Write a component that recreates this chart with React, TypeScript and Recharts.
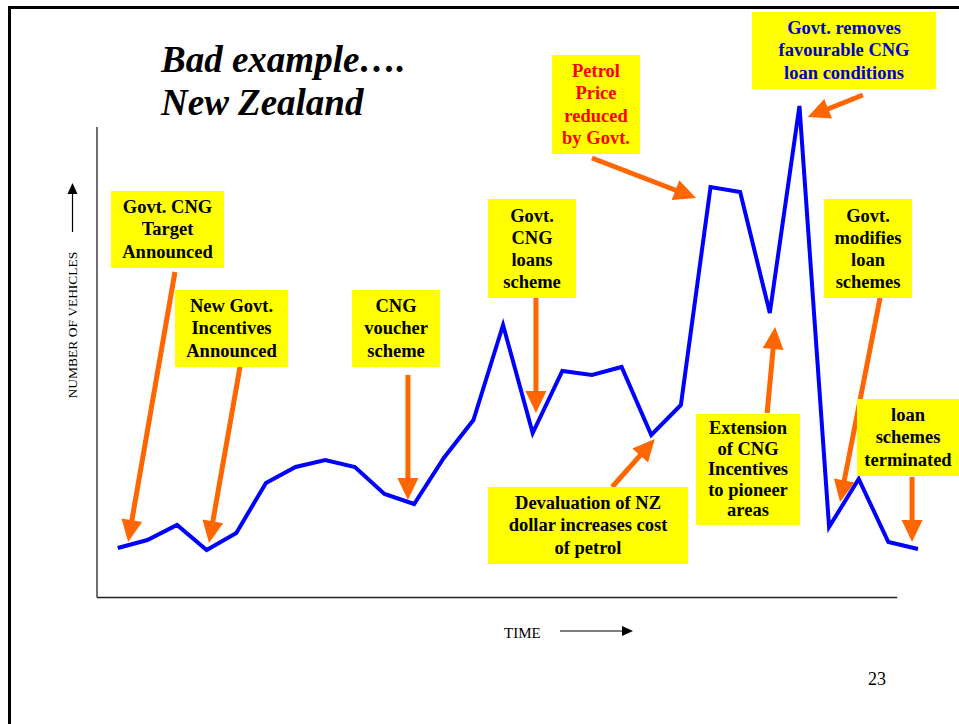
import { LineChart, Line, XAxis, YAxis, ReferenceLine } from "recharts";

// time periods (no labels on the original slide) and vehicle counts
const periods = [0, 1, 2, 3, 4, 5, 6, 7, 8, 9, 10, 11, 12, 13, 14, 15, 16, 17, 18, 19, 20, 21, 22, 23, 24, 25, 26, 27];
const vehicles = [
  510, 590, 740, 490, 660, 1160, 1320, 1390, 1320, 1050, 950, 1410, 1790, 2740,
  1660, 2280, 2240, 2320, 1640, 1940, 4120, 4070, 2860, 4930, 720, 1200, 570, 500,
];

const data = periods.map((t, i) => ({ t, vehicles: vehicles[i] }));

// orange call-out arrows, tail -> head, in chart units [period, vehicles]
const arrowTails = [
  [1.93, 3270], [4.13, 2330], [9.79, 2240], [14.11, 3010], [16.0, 4410],
  [25.14, 5040], [16.68, 1120], [21.91, 1860], [25.72, 3010], [26.8, 1220],
];
const arrowHeads = [
  [0.35, 570], [3.08, 560], [9.79, 990], [14.11, 1860], [19.51, 4010],
  [23.28, 4820], [18.12, 1600], [22.18, 2720], [24.37, 970], [26.8, 570],
];

const notes = [
  { lines: ["Govt. CNG", "Target", "Announced"], left: 111, top: 191, w: 113, h: 77 },
  { lines: ["New Govt.", "Incentives", "Announced"], left: 175, top: 290, w: 113, h: 77 },
  { lines: ["CNG", "voucher", "scheme"], left: 352, top: 290, w: 88, h: 77 },
  { lines: ["Govt.", "CNG", "loans", "scheme"], left: 488, top: 199, w: 88, h: 99, lh: 22 },
  { lines: ["Petrol", "Price", "reduced", "by Govt."], left: 552, top: 55, w: 88, h: 99, lh: 22.3, color: "#FF0000" },
  { lines: ["Govt. removes", "favourable CNG", "loan conditions"], left: 752, top: 12, w: 184, h: 77, color: "#0000CC" },
  { lines: ["Govt.", "modifies", "loan", "schemes"], left: 824, top: 199, w: 88, h: 99, lh: 22 },
  { lines: ["Devaluation of NZ", "dollar increases cost", "of petrol"], left: 488, top: 487, w: 200, h: 77 },
  { lines: ["Extension", "of CNG", "Incentives", "to pioneer", "areas"], left: 696, top: 414, w: 104, h: 111, lh: 20.5 },
  { lines: ["loan", "schemes", "terminated"], left: 857, top: 399, w: 102, h: 77 },
];

const serif = '"Liberation Serif", "Times New Roman", serif';

function Arrow(props: any) {
  const { x1, y1, x2, y2 } = props;
  const dx = x2 - x1;
  const dy = y2 - y1;
  const len = Math.hypot(dx, dy) || 1;
  const ux = dx / len;
  const uy = dy / len;
  const head = 22;
  const half = 10.5;
  const bx = x2 - ux * head;
  const by = y2 - uy * head;
  return (
    <g>
      <line x1={x1} y1={y1} x2={bx + ux} y2={by + uy} stroke="#FF6600" strokeWidth={5} />
      <polygon
        points={`${x2},${y2} ${bx - uy * half},${by + ux * half} ${bx + uy * half},${by - ux * half}`}
        fill="#FF6600"
      />
    </g>
  );
}

export default function App() {
  return (
    <div
      style={{
        position: "absolute",
        left: 0,
        top: 0,
        width: 959,
        height: 724,
        background: "#fff",
        fontFamily: serif,
        overflow: "hidden",
      }}
    >
      {/* slide frame */}
      <div
        style={{
          position: "absolute",
          left: 8,
          top: 6,
          width: 960,
          height: 730,
          borderTop: "3px solid #000",
          borderLeft: "3px solid #000",
        }}
      />

      <div style={{ position: "absolute", left: 0, top: 0 }}>
        <LineChart width={959} height={724} data={data} margin={{ top: 0, right: 41, bottom: 125, left: 97 }}>
          <XAxis dataKey="t" type="number" domain={[-0.7, 27]} hide />
          <YAxis type="number" domain={[0, 5990]} hide />
          <ReferenceLine
            segment={[{ x: -0.7, y: 15 }, { x: -0.7, y: 4720 }]}
            stroke="#222"
            strokeWidth={1.3}
            ifOverflow="visible"
          />
          <ReferenceLine
            segment={[{ x: -0.7, y: 15 }, { x: 26.3, y: 15 }]}
            stroke="#222"
            strokeWidth={1.3}
            ifOverflow="visible"
          />
          <Line
            type="linear"
            dataKey="vehicles"
            stroke="#0000FF"
            strokeWidth={4}
            dot={false}
            activeDot={false}
            isAnimationActive={false}
          />
          {arrowTails.map((tail, i) => (
            <ReferenceLine
              key={i}
              segment={[
                { x: tail[0], y: tail[1] },
                { x: arrowHeads[i][0], y: arrowHeads[i][1] },
              ]}
              ifOverflow="visible"
              shape={Arrow}
            />
          ))}
        </LineChart>
      </div>

      {/* title */}
      <div
        style={{
          position: "absolute",
          left: 161,
          top: 38,
          fontSize: 37,
          lineHeight: "43px",
          fontWeight: "bold",
          fontStyle: "italic",
          whiteSpace: "nowrap",
          color: "#000",
        }}
      >
        <div>Bad example….</div>
        <div>New Zealand</div>
      </div>

      {/* axis captions, page number */}
      <svg width={959} height={724} style={{ position: "absolute", left: 0, top: 0 }}>
        <text
          x={77}
          y={325}
          transform="rotate(-90 77 325)"
          textAnchor="middle"
          fontSize={13.5}
          fontFamily={serif}
          fill="#000"
        >
          NUMBER OF VEHICLES
        </text>
        <line x1={72.5} y1={232} x2={72.5} y2={193} stroke="#000" strokeWidth={1.2} />
        <polygon points="72.5,183 67.5,194 77.5,194" fill="#000" />

        <text x={504} y={638} fontSize={15} fontFamily={serif} fill="#000">
          TIME
        </text>
        <line x1={560} y1={631} x2={622} y2={631} stroke="#000" strokeWidth={1.2} />
        <polygon points="633,631 622,626 622,636" fill="#000" />

        <text x={868} y={685} fontSize={18} fontFamily={serif} fill="#000">
          23
        </text>
      </svg>

      {/* yellow call-out boxes */}
      {notes.map((n, i) => (
        <div
          key={i}
          style={{
            position: "absolute",
            left: n.left,
            top: n.top,
            width: n.w,
            height: n.h,
            background: "#FFFF00",
            display: "flex",
            flexDirection: "column",
            justifyContent: "center",
            alignItems: "center",
            textAlign: "center",
            fontWeight: "bold",
            fontSize: 18.5,
            lineHeight: `${n.lh ?? 22.5}px`,
            color: n.color ?? "#000",
            whiteSpace: "nowrap",
          }}
        >
          {n.lines.map((l, j) => (
            <div key={j}>{l}</div>
          ))}
        </div>
      ))}
    </div>
  );
}
